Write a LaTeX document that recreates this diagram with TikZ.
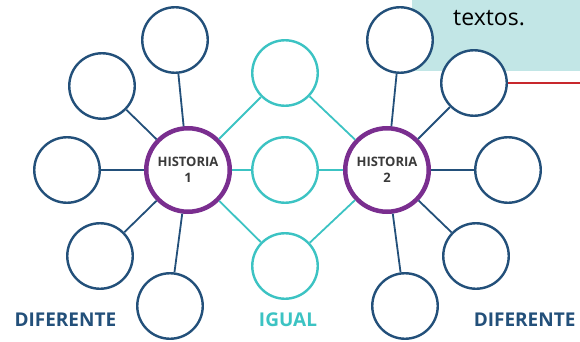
\documentclass[tikz,border=0pt]{standalone}
\usepackage{fontspec}
\setmainfont{Open Sans}
\definecolor{navy}{HTML}{23507A}
\definecolor{tealc}{HTML}{3CC3C3}
\definecolor{purp}{HTML}{7A2E8F}
\definecolor{notec}{HTML}{C2E6E6}
\definecolor{redc}{HTML}{C8282D}
\definecolor{inkc}{HTML}{3A3A3A}
\tikzset{
  bubble/.style={circle,draw=navy,line width=2.4pt,fill=white,minimum size=65.5pt,inner sep=0pt},
  same/.style={bubble,draw=tealc},
  story/.style={circle,draw=purp,line width=4.5pt,fill=white,minimum size=83.5pt,inner sep=0pt,
    align=center,text=inkc,font=\bfseries\fontsize{13}{15.5}\selectfont},
  link/.style={line width=1.8pt,navy},
  samelink/.style={line width=1.8pt,tealc},
  label/.style={font=\bfseries\fontsize{19}{21}\selectfont,anchor=base},
}
\begin{document}
\begin{tikzpicture}[x=1pt,y=-1pt]
  \useasboundingbox (0,0) rectangle (580,342);
  % the note box (cut off)
  \fill[notec] (412,0) rectangle (580,71);
  \node[anchor=base west,inner sep=0pt,font=\fontsize{23}{26}\selectfont] (note) at (453,26) {textos.};
  \coordinate (edge) at (580,83);
  %% the two stories
  \node[story] (h1) at (188,170) {HISTORIA\\1};
  \node[story] (h2) at (387,170) {HISTORIA\\2};
  % what is the same
  \foreach \n/\y in {1/73,2/170,3/266}
  {
    \node[same] (s\n) at (285,\y) {};
    \draw[samelink] (h1) -- (s\n);
    \draw[samelink] (h2) -- (s\n);
  }
  % what is different, story 1
  \foreach \n/\x/\y in {1/175/40,2/102/86,3/67/170,4/100/256,5/170/306}
  {
    \node[bubble] (a\n) at (\x,\y) {};
    \draw[link] (h1) -- (a\n);
  }
  % what is different, story 2
  \foreach \n/\x/\y in {1/400/40,2/474/83,3/508/170,4/476/256,5/405/306}
  {
    \node[bubble] (b\n) at (\x,\y) {};
    \draw[link] (h2) -- (b\n);
  }
  \draw[redc,line width=2pt] (b2.east) -- (edge);
  % the labels
  \node[label,navy,anchor=base west] (dif1) at (11,326) {DIFERENTE};
  \node[label,tealc] (same) at (288,326) {IGUAL};
  \node[label,navy,anchor=base east] (dif2) at (579,326) {DIFERENTE};
\end{tikzpicture}
\end{document}
